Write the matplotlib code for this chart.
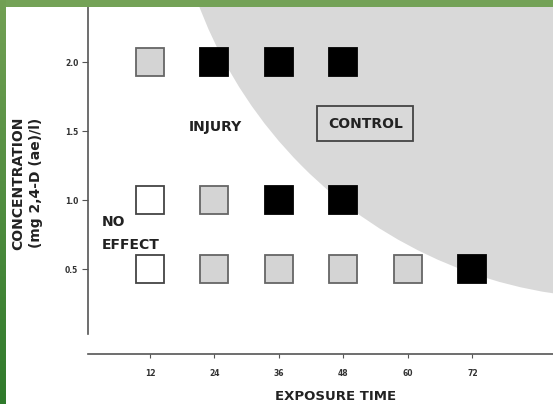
import matplotlib
matplotlib.use("Agg")
import matplotlib.pyplot as plt
import numpy as np
from matplotlib.patches import Ellipse, Rectangle
from matplotlib.colors import LinearSegmentedColormap

# Data
exposure_ticks = [12, 24, 36, 48, 60, 72]
conc_ticks = [0.5, 1.0, 1.5, 2.0]
conc_ticklabels = ["0.5", "1.0", "1.5", "2.0"]

# squares: (exposure, concentration, kind)
sq_x = [12, 24, 36, 48,
        12, 24, 36, 48,
        12, 24, 36, 48, 60, 72]
sq_y = [2.0, 2.0, 2.0, 2.0,
        1.0, 1.0, 1.0, 1.0,
        0.5, 0.5, 0.5, 0.5, 0.5, 0.5]
sq_kind = ["injury", "control", "control", "control",
           "none", "injury", "control", "control",
           "none", "injury", "injury", "injury", "injury", "control"]

styles = {
    "none": dict(mfc="white", mec="#444444"),
    "injury": dict(mfc="#d4d4d4", mec="#666666"),
    "control": dict(mfc="black", mec="black"),
}

plt.rcParams['font.family'] = ['DejaVu Sans']

fig = plt.figure(figsize=(5.53, 4.04), dpi=100)
fig.patch.set_facecolor("white")

W, H = 553, 404
ax = fig.add_axes([88 / W, (H - 354) / H, 1 - 88 / W, (354 - 7) / H])
ax.set_facecolor("none")
ax.set_xlim(0.47, 87.0)
ax.set_ylim(-0.113, 2.40)

# Shaded control region
ell = Ellipse((99.4, 3.57), width=2 * 83.7, height=2 * 3.28,
              facecolor="#d9d9d9", edgecolor="none", zorder=0)
ax.add_patch(ell)

for x, y, k in zip(sq_x, sq_y, sq_kind):
    ax.plot(x, y, marker="s", markersize=20, mew=1.3, linestyle="none",
            zorder=3, **styles[k])

for s in ["top", "right"]:
    ax.spines[s].set_visible(False)
ax.spines["left"].set_bounds(0.03, 2.40)
ax.spines["left"].set_color("#555555")
ax.spines["bottom"].set_color("#555555")
ax.spines["left"].set_linewidth(1.2)
ax.spines["bottom"].set_linewidth(1.2)

ax.set_xticks(exposure_ticks)
ax.set_xticklabels([str(t) for t in exposure_ticks], fontsize=5.5, fontweight="bold", color="#333333")
ax.set_yticks(conc_ticks)
ax.set_yticklabels(conc_ticklabels, fontsize=5.5, fontweight="bold", color="#333333")
ax.tick_params(axis="x", length=3, pad=8, color="#555555")
ax.tick_params(axis="y", length=4, pad=3, color="#555555")

lab = dict(fontsize=10, fontweight="bold", color="#222222")
ax.text(24.2, 1.533, "INJURY", ha="center", va="center", **lab)
ax.text(52.2, 1.551, "CONTROL", ha="center", va="center", **lab)
ax.add_patch(Rectangle((43.07, 1.427), 60.93 - 43.07, 1.682 - 1.427,
                       fill=False, ec="#444444", lw=1.3, zorder=2))
ax.text(3.07, 0.843, "NO", ha="left", va="center", **lab)
ax.text(3.07, 0.675, "EFFECT", ha="left", va="center", **lab)

fig.text(336 / W, 1 - 396 / H, "EXPOSURE TIME", ha="center", va="center",
         fontsize=9.5, fontweight="bold", color="#222222")
fig.text(27 / W, 1 - 183 / H, "CONCENTRATION\n(mg 2,4-D (ae)/l)",
         rotation=90, ha="center", va="center", linespacing=1.4,
         multialignment="center", **lab)

# Green frame
top = fig.add_axes([0, 1 - 7 / H, 1, 7 / H])
top.set_facecolor("#74a257")
top.set_xticks([]); top.set_yticks([])
for s in top.spines.values():
    s.set_visible(False)

left = fig.add_axes([0, 0, 6 / W, 1])
grad = np.linspace(0, 1, 256).reshape(-1, 1)
cmap = LinearSegmentedColormap.from_list("g", ["#72a054", "#2f7a2b"])
left.imshow(grad, aspect="auto", cmap=cmap, extent=[0, 1, 0, 1], origin="upper")
left.axis("off")

fig.savefig("out.png", dpi=100)
